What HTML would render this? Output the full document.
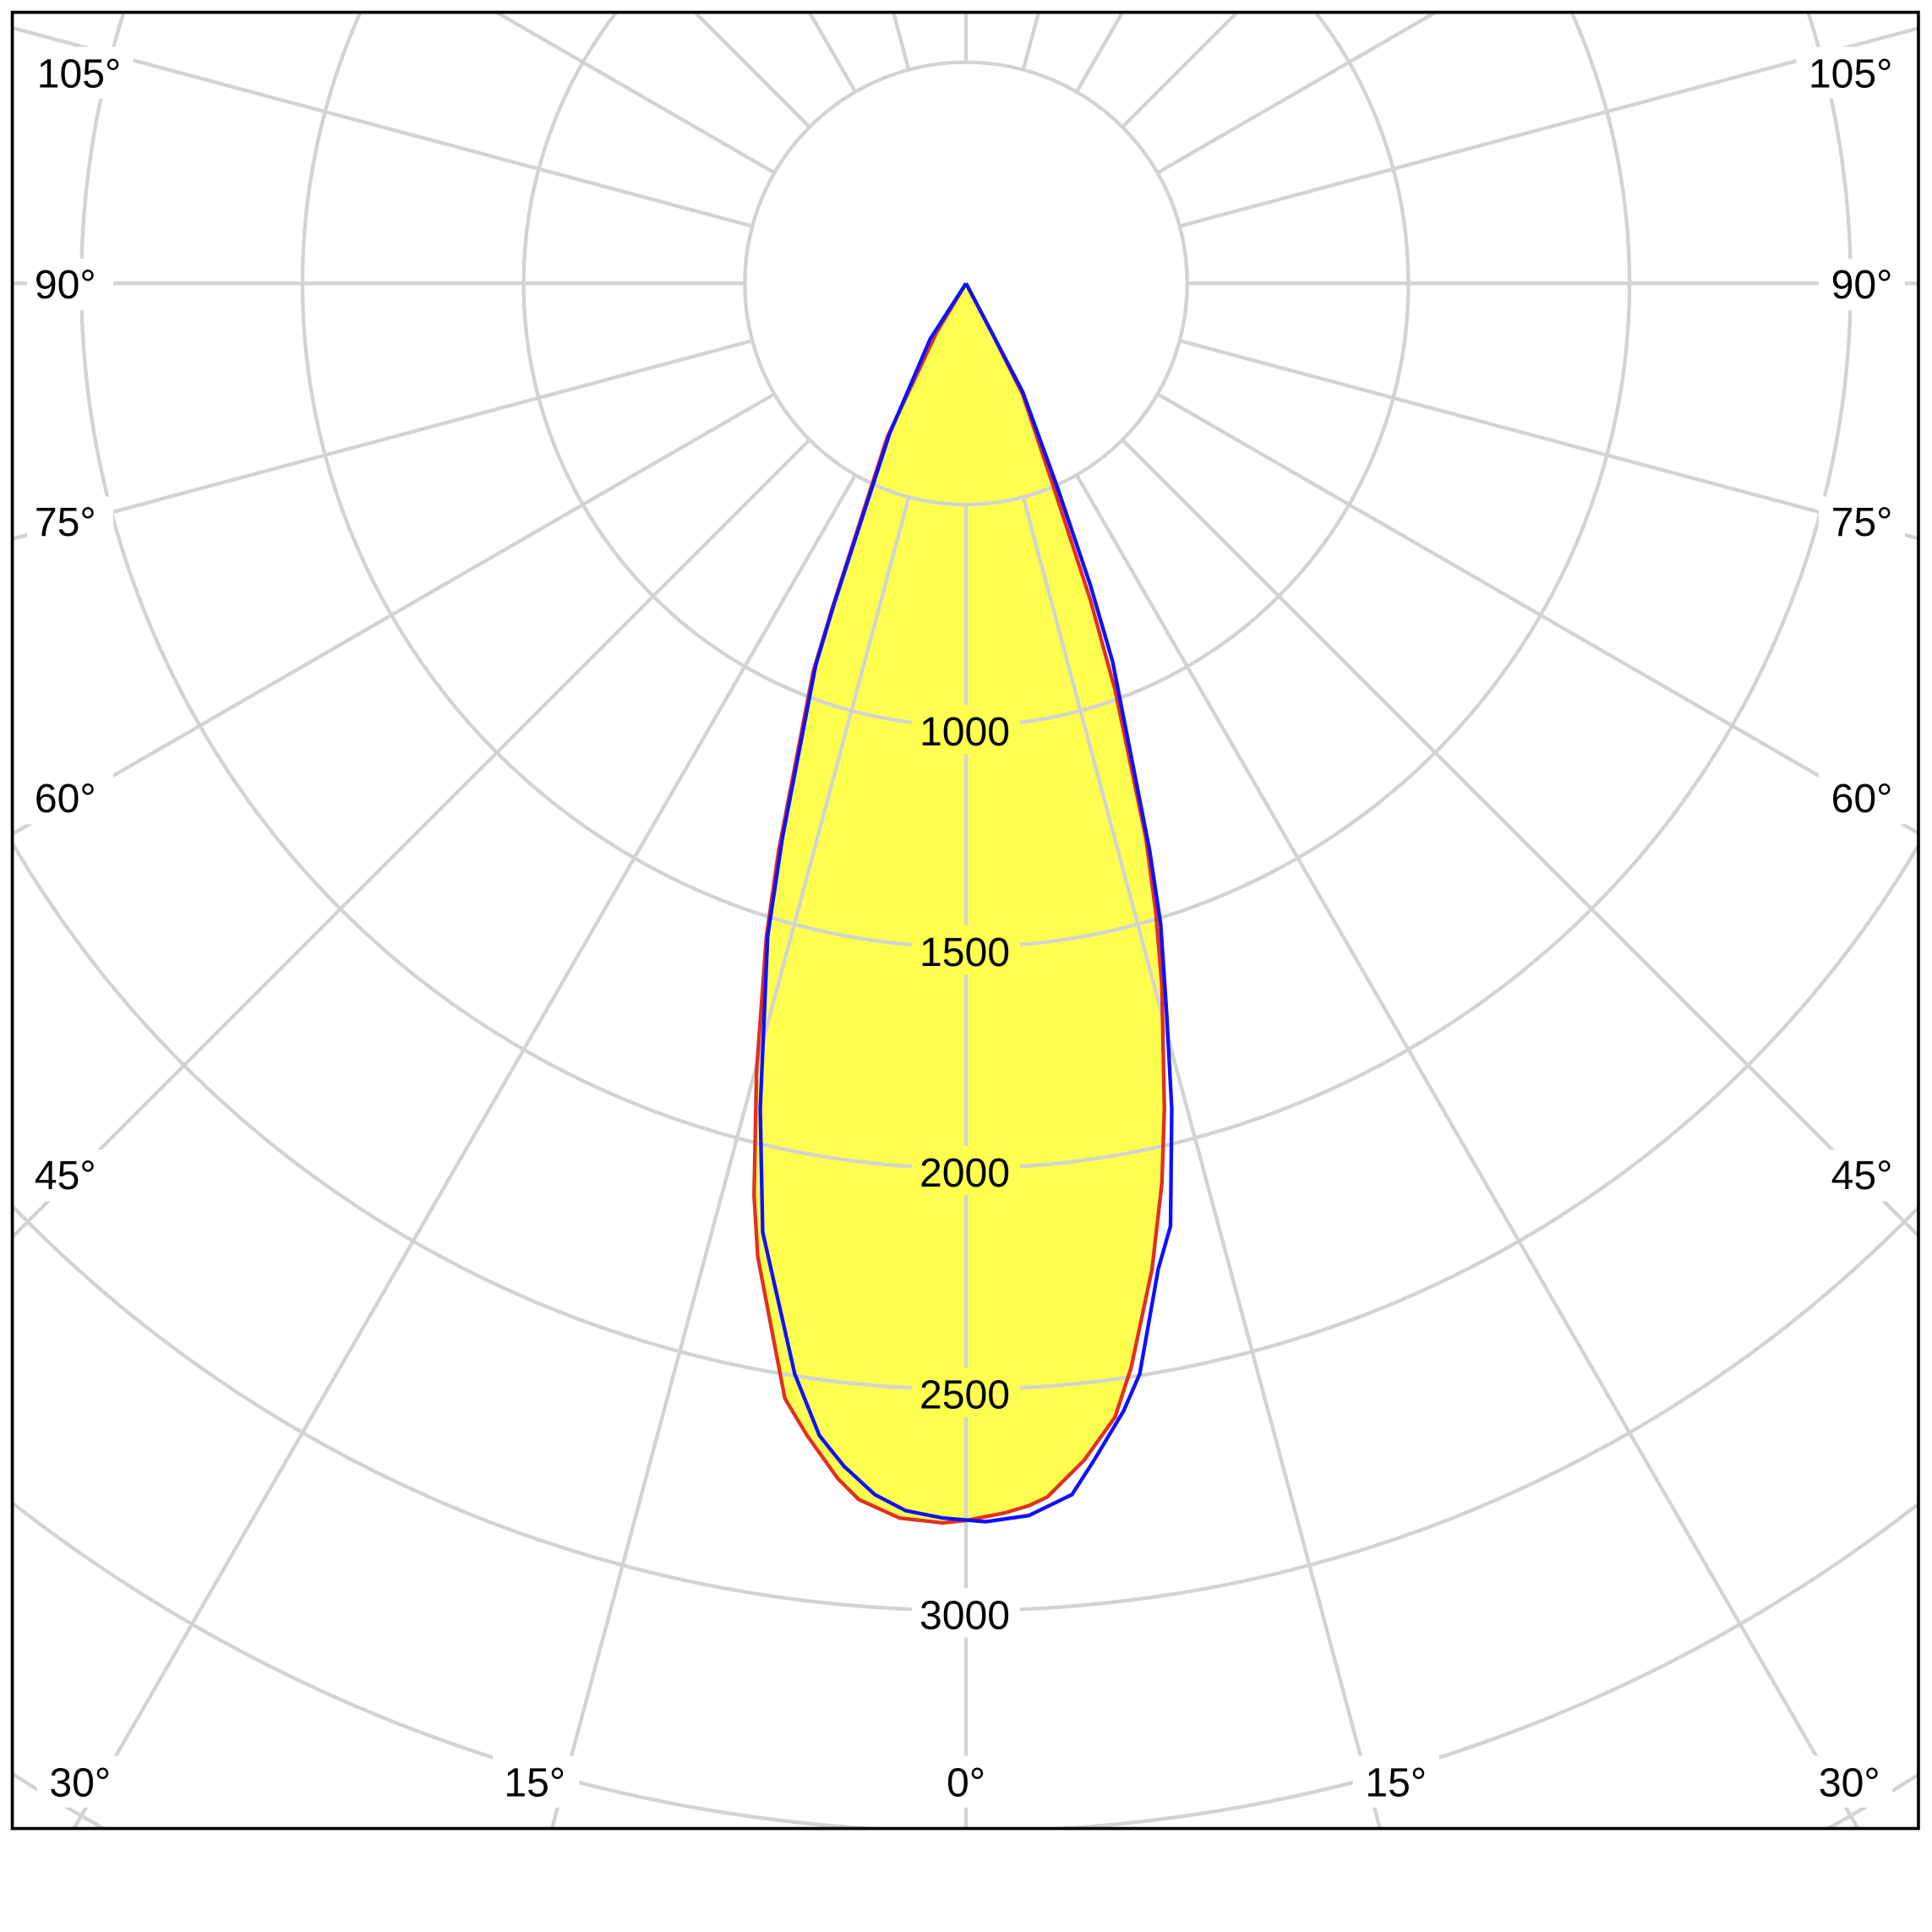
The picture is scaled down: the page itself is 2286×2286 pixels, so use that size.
<!DOCTYPE html>
<html><head><meta charset="utf-8"><style>html,body{margin:0;padding:0;background:#fff;width:2286px;height:2286px;overflow:hidden}svg{display:block}</style></head>
<body>
<svg xmlns="http://www.w3.org/2000/svg" width="2286" height="2286" viewBox="0 0 1568 1568">
<defs><clipPath id="c"><rect x="10" y="10" width="1547" height="1474"/></clipPath></defs>
<rect width="1568" height="1568" fill="#fff"/>
<g clip-path="url(#c)">
<polygon fill="#ffff50" points="784,230 760,270 720,355 675,495 660,545 632,690 622,760 614,870 612,970 615,1020 637,1135 655,1165 680,1200 697,1217 730,1232 765,1236 784,1234 815,1228 835,1222 850,1215 880,1185 905,1150 918,1110 935,1030 943,960 945,900 943,800 938,740 930,680 905,560 885,487 855,395 830,320 805,270"/>
<g fill="none" stroke="#d3d3d3" stroke-width="3">
<circle cx="784" cy="230" r="179.5"/><circle cx="784" cy="230" r="359"/><circle cx="784" cy="230" r="538.5"/><circle cx="784" cy="230" r="718"/><circle cx="784" cy="230" r="897.5"/><circle cx="784" cy="230" r="1077"/><circle cx="784" cy="230" r="1256.5"/><circle cx="784" cy="230" r="1436"/><circle cx="784" cy="230" r="1615.5"/><circle cx="784" cy="230" r="1795"/>
<line x1="784" y1="409.5" x2="784" y2="2300" transform="rotate(0 784 230)"/>
<line x1="784" y1="409.5" x2="784" y2="2300" transform="rotate(15 784 230)"/>
<line x1="784" y1="409.5" x2="784" y2="2300" transform="rotate(30 784 230)"/>
<line x1="784" y1="409.5" x2="784" y2="2300" transform="rotate(45 784 230)"/>
<line x1="784" y1="409.5" x2="784" y2="2300" transform="rotate(60 784 230)"/>
<line x1="784" y1="409.5" x2="784" y2="2300" transform="rotate(75 784 230)"/>
<line x1="784" y1="409.5" x2="784" y2="2300" transform="rotate(90 784 230)"/>
<line x1="784" y1="409.5" x2="784" y2="2300" transform="rotate(105 784 230)"/>
<line x1="784" y1="409.5" x2="784" y2="2300" transform="rotate(120 784 230)"/>
<line x1="784" y1="409.5" x2="784" y2="2300" transform="rotate(135 784 230)"/>
<line x1="784" y1="409.5" x2="784" y2="2300" transform="rotate(150 784 230)"/>
<line x1="784" y1="409.5" x2="784" y2="2300" transform="rotate(165 784 230)"/>
<line x1="784" y1="409.5" x2="784" y2="2300" transform="rotate(180 784 230)"/>
<line x1="784" y1="409.5" x2="784" y2="2300" transform="rotate(-15 784 230)"/>
<line x1="784" y1="409.5" x2="784" y2="2300" transform="rotate(-30 784 230)"/>
<line x1="784" y1="409.5" x2="784" y2="2300" transform="rotate(-45 784 230)"/>
<line x1="784" y1="409.5" x2="784" y2="2300" transform="rotate(-60 784 230)"/>
<line x1="784" y1="409.5" x2="784" y2="2300" transform="rotate(-75 784 230)"/>
<line x1="784" y1="409.5" x2="784" y2="2300" transform="rotate(-90 784 230)"/>
<line x1="784" y1="409.5" x2="784" y2="2300" transform="rotate(-105 784 230)"/>
<line x1="784" y1="409.5" x2="784" y2="2300" transform="rotate(-120 784 230)"/>
<line x1="784" y1="409.5" x2="784" y2="2300" transform="rotate(-135 784 230)"/>
<line x1="784" y1="409.5" x2="784" y2="2300" transform="rotate(-150 784 230)"/>
<line x1="784" y1="409.5" x2="784" y2="2300" transform="rotate(-165 784 230)"/>
</g>
<g fill="#ffff50"><rect x="740" y="572" width="88" height="40"/><rect x="740" y="751" width="88" height="40"/><rect x="740" y="930" width="88" height="40"/><rect x="740" y="1110" width="88" height="40"/></g>
<g fill="#fff"><rect x="740" y="1289" width="88" height="40"/>
<rect x="22" y="38" width="86" height="42"/><rect x="22" y="210" width="70" height="42"/><rect x="22" y="403" width="70" height="42"/><rect x="22" y="627" width="70" height="42"/><rect x="22" y="933" width="70" height="42"/>
<rect x="1458" y="38" width="86" height="42"/><rect x="1476" y="210" width="70" height="42"/><rect x="1476" y="403" width="70" height="42"/><rect x="1476" y="627" width="70" height="42"/><rect x="1476" y="933" width="70" height="42"/>
<rect x="30" y="1425" width="70" height="42"/><rect x="400" y="1425" width="70" height="42"/><rect x="756" y="1425" width="56" height="42"/><rect x="1098" y="1425" width="70" height="42"/><rect x="1466" y="1425" width="70" height="42"/>
</g>
<polyline fill="none" stroke="#e03020" stroke-width="3" points="784,230 760,270 720,355 675,495 660,545 632,690 622,760 614,870 612,970 615,1020 637,1135 655,1165 680,1200 697,1217 730,1232 765,1236 784,1234 815,1228 835,1222 850,1215 880,1185 905,1150 918,1110 935,1030 943,960 945,900 943,800 938,740 930,680 905,560 885,487 855,395 830,320 805,270 784,230"/>
<polyline fill="none" stroke="#1010ff" stroke-width="3" points="784,230 755,275 722,352 677,490 662,540 635,680 623,760 617,900 619,1000 645,1115 665,1165 685,1190 710,1213 735,1226 765,1232 800,1235 835,1230 870,1213 888,1185 912,1145 925,1115 940,1030 950,995 951,900 947,825 942,750 933,690 903,537 885,475 858,395 830,318 805,270 784,230"/>
</g>
<rect x="10" y="10" width="1547" height="1474" fill="none" stroke="#000" stroke-width="2.5"/>
<g font-family="Liberation Sans, sans-serif" font-size="33" fill="#000">
<g text-anchor="middle"><text x="783" y="605">1000</text><text x="783" y="784">1500</text><text x="783" y="963">2000</text><text x="783" y="1143">2500</text><text x="783" y="1322">3000</text>
<text x="65" y="1458">30°</text><text x="434" y="1458">15°</text><text x="784" y="1458">0°</text><text x="1133" y="1458">15°</text><text x="1501" y="1458">30°</text></g>
<text x="30" y="71">105°</text><text x="28" y="242">90°</text><text x="28" y="435">75°</text><text x="28" y="659">60°</text><text x="28" y="965">45°</text>
<g text-anchor="end"><text x="1536" y="71">105°</text><text x="1536" y="242">90°</text><text x="1536" y="435">75°</text><text x="1536" y="659">60°</text><text x="1536" y="965">45°</text></g>
</g>
</svg>
</body></html>
